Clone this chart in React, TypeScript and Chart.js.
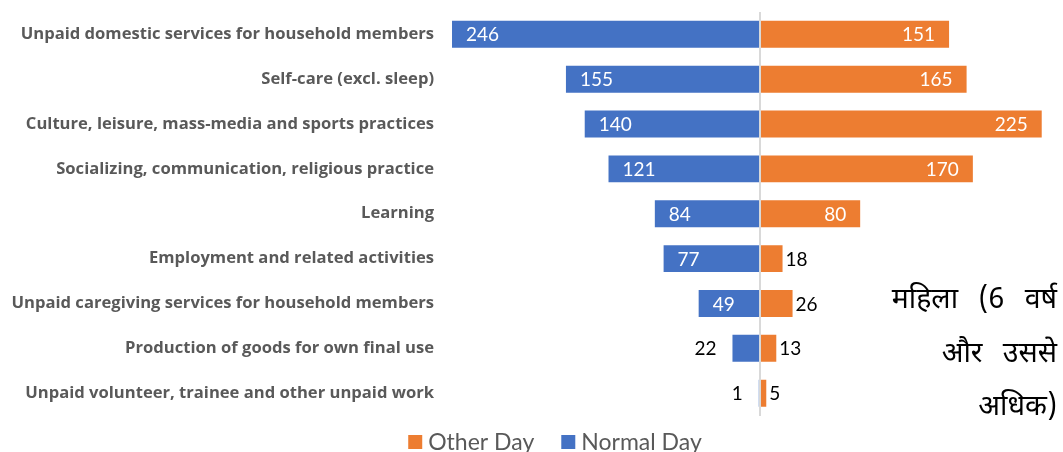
import { useEffect, useRef } from 'react';
import { Chart, registerables } from 'chart.js';

Chart.register(...registerables);

const categories = [
  'Unpaid domestic services for household members',
  'Self-care (excl. sleep)',
  'Culture, leisure, mass-media and sports practices',
  'Socializing, communication, religious practice',
  'Learning',
  'Employment and related activities',
  'Unpaid caregiving services for household members',
  'Production of goods for own final use',
  'Unpaid volunteer, trainee and other unpaid work',
];
const normalDay = [246, 155, 140, 121, 84, 77, 49, 22, 1];
const otherDay = [151, 165, 225, 170, 80, 18, 26, 13, 5];
const seriesNames = ['Normal Day', 'Other Day'];
const seriesColors = ['#4472C4', '#ED7D31'];
const legendOrder = [1, 0];
const noteLines = ['महिला (6 वर्ष', 'और उससे', 'अधिक)'];
const axisMin = -250;
const axisMax = 240;

const valueLabelPlugin = {
  id: 'valueLabels',
  afterDatasetsDraw(chart: any) {
    const ctx = chart.ctx;
    ctx.save();
    ctx.font = '19px Lato, sans-serif';
    ctx.textBaseline = 'middle';
    chart.data.datasets.forEach((ds: any, i: number) => {
      const meta = chart.getDatasetMeta(i);
      meta.data.forEach((el: any, j: number) => {
        const raw = ds.data[j];
        const text = String(Math.abs(raw));
        const { x, base, y } = el.getProps(['x', 'base', 'y'], true);
        const len = Math.abs(x - base);
        const w = ctx.measureText(text).width;
        const inside = len >= w + 28;
        const neg = raw < 0;
        if (inside) {
          ctx.fillStyle = '#FFFFFF';
          if (neg) {
            ctx.textAlign = 'left';
            ctx.fillText(text, x + 14, y + 1);
          } else {
            ctx.textAlign = 'right';
            ctx.fillText(text, x - 14, y + 1);
          }
        } else {
          ctx.fillStyle = '#000000';
          if (neg) {
            ctx.textAlign = 'right';
            ctx.fillText(text, x - 16, y + 1);
          } else {
            ctx.textAlign = 'left';
            ctx.fillText(text, x + 3, y + 1);
          }
        }
      });
    });
    ctx.restore();
  },
};

const extrasPlugin = {
  id: 'extras',
  afterDraw(chart: any) {
    const ctx = chart.ctx;
    ctx.save();
    // legend
    ctx.font = '23px Lato, sans-serif';
    ctx.textBaseline = 'middle';
    ctx.textAlign = 'left';
    const box = 14;
    const gapText = 6;
    const gapItem = 27;
    const widths = legendOrder.map((k) => ctx.measureText(chart.data.datasets[k].label).width);
    const total = widths.reduce((a: number, b: number) => a + b, 0) + legendOrder.length * (box + gapText) + gapItem * (legendOrder.length - 1);
    let lx = 555 - total / 2;
    const ly = 442;
    legendOrder.forEach((k, idx) => {
      const ds = chart.data.datasets[k];
      ctx.fillStyle = ds.backgroundColor;
      ctx.fillRect(lx, ly - box / 2, box, box);
      ctx.fillStyle = '#595959';
      ctx.fillText(ds.label, lx + box + gapText, ly + 1);
      lx += box + gapText + widths[idx] + gapItem;
    });
    // note text
    ctx.font = '28.5px "Noto Sans Devanagari", "Noto Sans", sans-serif';
    ctx.fillStyle = '#000000';
    ctx.textAlign = 'right';
    (ctx as any).wordSpacing = '13px';
    noteLines.forEach((line, i) => {
      ctx.fillText(line, 1057, 303 + i * 53.5);
    });
    ctx.restore();
  },
};

export default function App() {
  const ref = useRef<HTMLCanvasElement | null>(null);
  useEffect(() => {
    if (!ref.current) return;
    const chart = new Chart(ref.current, {
      type: 'bar',
      data: {
        labels: categories,
        datasets: [
          {
            label: seriesNames[0],
            data: normalDay.map((v) => -v),
            backgroundColor: seriesColors[0],
            barPercentage: 0.6,
            categoryPercentage: 1,
          },
          {
            label: seriesNames[1],
            data: otherDay,
            backgroundColor: seriesColors[1],
            barPercentage: 0.6,
            categoryPercentage: 1,
          },
        ],
      },
      options: {
        indexAxis: 'y',
        responsive: true,
        maintainAspectRatio: false,
        animation: false,
        layout: { padding: { left: 0, right: 2.5, top: 11.9, bottom: 36.4 } },
        plugins: {
          legend: { display: false },
          tooltip: { enabled: false },
        },
        scales: {
          x: {
            stacked: true,
            min: axisMin,
            max: axisMax,
            z: 1,
            ticks: { display: false, stepSize: 50 },
            grid: {
              drawTicks: false,
              lineWidth: 2,
              color: (c: any) => (c.tick && c.tick.value === 0 ? '#D9D9D9' : 'rgba(0,0,0,0)'),
            },
            border: { display: false },
            afterFit: (s: any) => {
              s.height = 0;
              s.paddingLeft = 0;
              s.paddingRight = 0;
              s.paddingTop = 0;
              s.paddingBottom = 0;
            },
          },
          y: {
            stacked: true,
            grid: { display: false, drawTicks: false },
            border: { display: false },
            ticks: {
              color: '#595959',
              padding: 13,
              font: { family: '"Open Sans"', weight: 'bold', size: 16.6 },
            },
            afterFit: (s: any) => {
              s.width = 447;
              s.paddingTop = 0;
              s.paddingBottom = 0;
              s.paddingLeft = 0;
              s.paddingRight = 0;
            },
          },
        },
      },
      plugins: [valueLabelPlugin, extrasPlugin],
    });
    return () => chart.destroy();
  }, []);
  return (
    <div style={{ position: 'absolute', left: 0, top: 0, width: 1063, height: 452 }}>
      <canvas ref={ref} />
    </div>
  );
}
